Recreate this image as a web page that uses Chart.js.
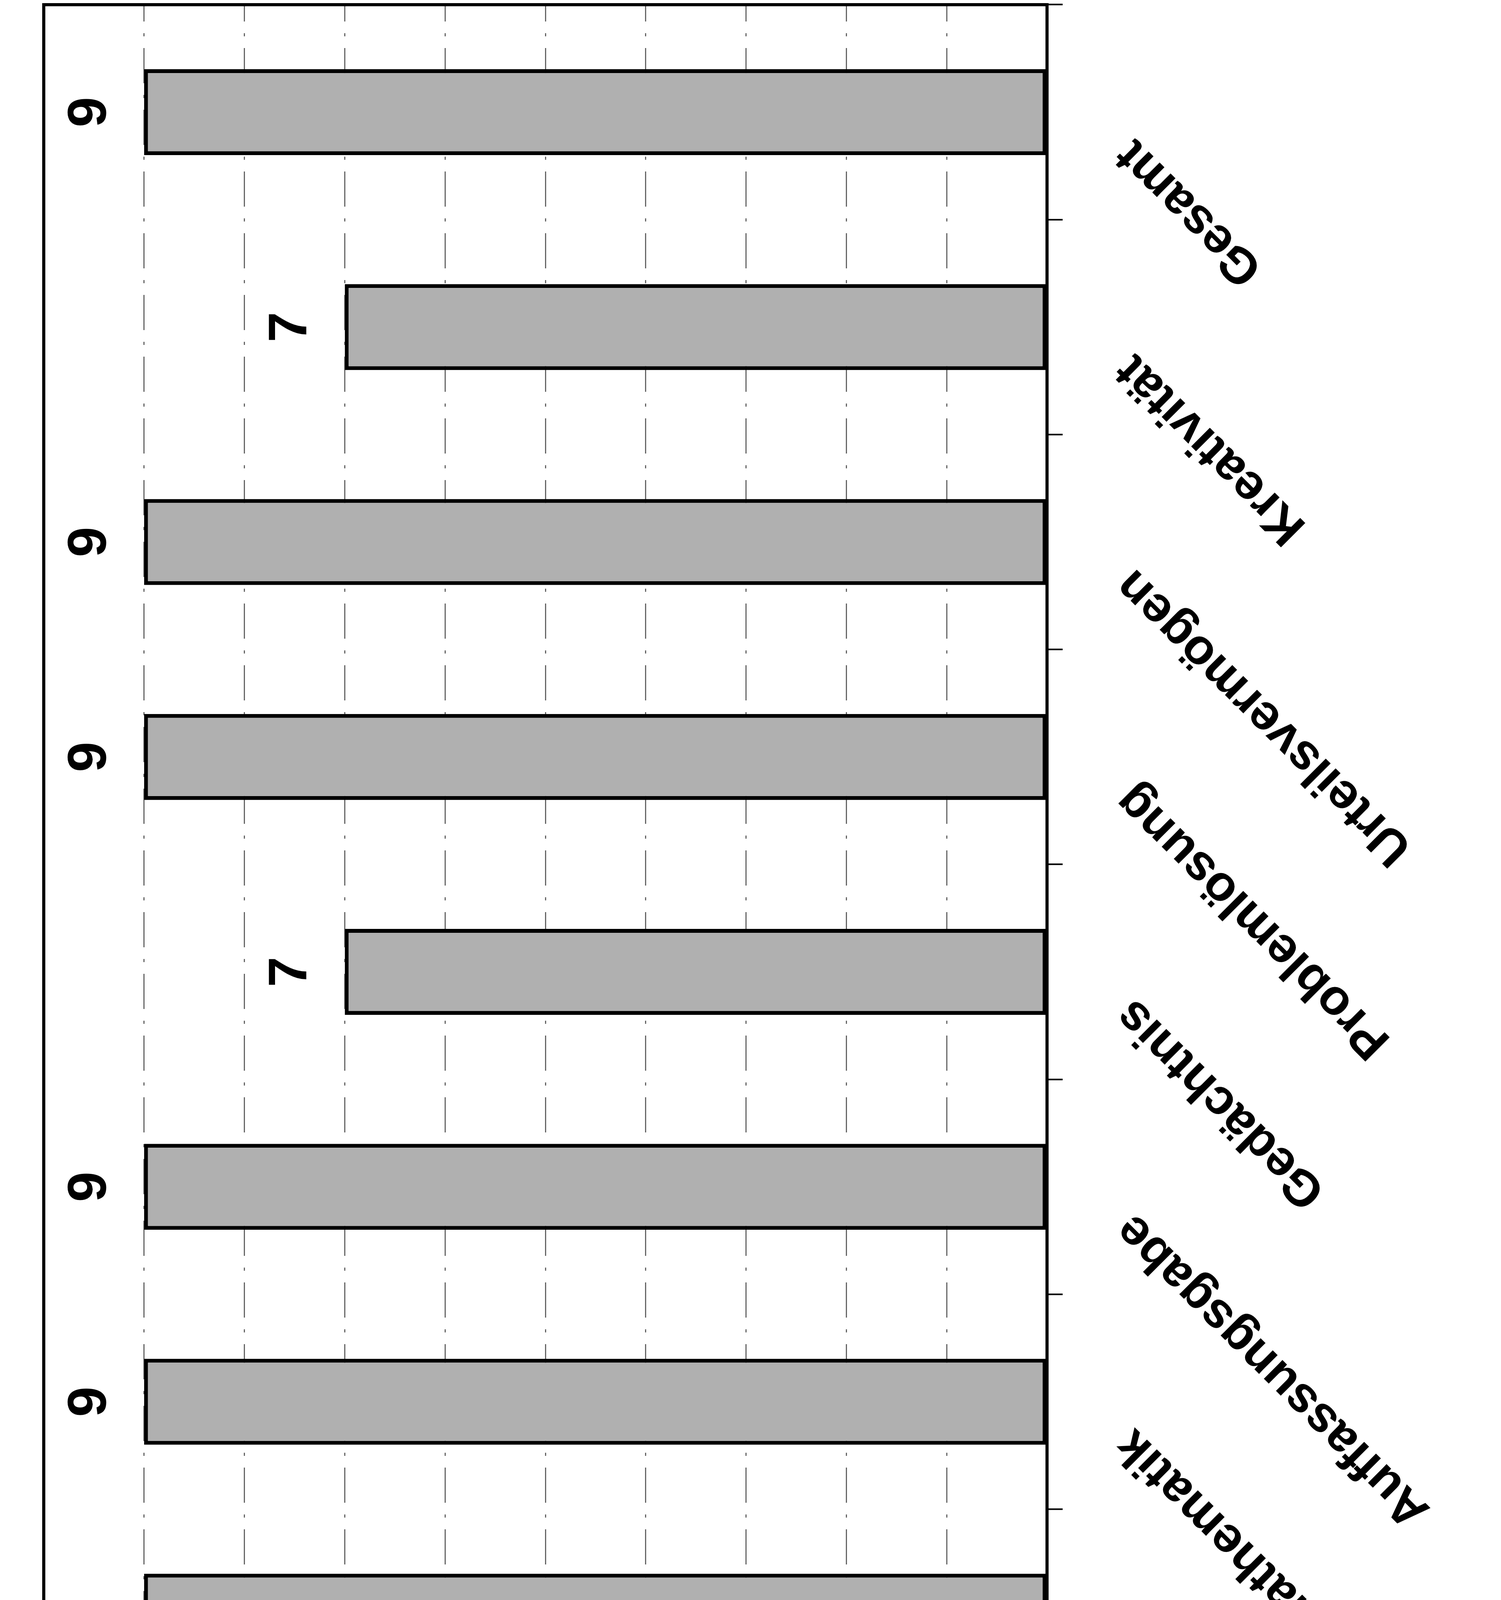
<!DOCTYPE html>
<html>
<head>
<meta charset="utf-8">
<title>Begabungsprofil</title>
<script src="https://cdn.jsdelivr.net/npm/chart.js@4.4.1/dist/chart.umd.min.js"></script>
<style>
  html, body { margin: 0; padding: 0; background: #fff; overflow: hidden; }
  /* the scanned page lies on its side, so the chart is drawn upright and turned */
  #wrap {
    position: absolute; left: 0; top: 0;
    width: 7842px; height: 3842px;
    transform-origin: 0 0;
    transform: translateY(7842px) rotate(-90deg);
  }
</style>
</head>
<body>
<div id="wrap"><canvas id="chart" width="7842" height="3842"></canvas></div>
<script>
const categories = [
  "Bildhafter Denker",
  "Symbolischer Denker",
  "Semantischer Denker",
  "Lese-Bereitschaft",
  "Lese-Verständnis",
  "Arithmetik",
  "Mathematik",
  "Auffassungsgabe",
  "Gedächtnis",
  "Problemlösung",
  "Urteilsvermögen",
  "Kreativität",
  "Gesamt",
];
const scores = [9, 9, 7, 8, 8, 9, 9, 9, 7, 9, 9, 7, 9];
const valueMin = 0;
const valueMax = 10;

const FONT = '"Liberation Sans", Arial, sans-serif';

// numbers above the bars
const valueLabels = {
  id: "valueLabels",
  afterDatasetsDraw(chart) {
    const ctx = chart.ctx;
    const meta = chart.getDatasetMeta(0);
    ctx.save();
    ctx.font = "bold 140px " + FONT;
    ctx.fillStyle = "#000";
    ctx.textAlign = "center";
    ctx.textBaseline = "alphabetic";
    meta.data.forEach((bar, i) => {
      ctx.fillText(String(scores[i]), bar.x, bar.y - 98);
    });
    ctx.restore();
  },
};

// box round the plot area
const plotFrame = {
  id: "plotFrame",
  afterDraw(chart) {
    const { left, top, right, bottom } = chart.chartArea;
    const ctx = chart.ctx;
    ctx.save();
    ctx.strokeStyle = "#000";
    ctx.lineWidth = 8;
    ctx.strokeRect(left, top, right - left, bottom - top);
    ctx.restore();
  },
};

new Chart(document.getElementById("chart"), {
  type: "bar",
  data: {
    labels: categories,
    datasets: [
      {
        data: scores,
        backgroundColor: "#b0b0b0",
        borderColor: "#000",
        borderWidth: 10,
        borderSkipped: false,
        barPercentage: 0.4,
        categoryPercentage: 1,
      },
    ],
  },
  options: {
    responsive: false,
    animation: false,
    devicePixelRatio: 1,
    layout: { padding: { top: 112, right: 12, left: 0, bottom: 0 } },
    plugins: {
      legend: { display: false },
      tooltip: { enabled: false },
    },
    scales: {
      x: {
        offset: true,
        grid: {
          offset: true,
          drawOnChartArea: false,
          drawTicks: true,
          tickLength: 40,
          tickColor: "#000",
          tickWidth: 4,
        },
        border: { display: false },
        ticks: {
          autoSkip: false,
          minRotation: 45,
          maxRotation: 45,
          padding: 105,
          labelOffset: -90,
          color: "#000",
          font: { family: FONT, size: 128, weight: "bold" },
        },
        afterFit: (scale) => {
          scale.height = 1162;
          scale.paddingLeft = 0;
          scale.paddingRight = 0;
        },
      },
      y: {
        min: valueMin,
        max: valueMax,
        ticks: {
          stepSize: 1,
          padding: 70,
          color: "#000",
          font: { family: FONT, size: 140, weight: "bold" },
        },
        grid: {
          color: "#666",
          lineWidth: 3,
          tickLength: 40,
          tickColor: "#000",
          tickWidth: 4,
          tickBorderDash: [],
        },
        border: { display: false, dash: [90, 30, 8, 30] },
        afterFit: (scale) => {
          scale.width = 677;
          scale.paddingTop = 0;
          scale.paddingBottom = 0;
        },
      },
    },
  },
  plugins: [valueLabels, plotFrame],
});
</script>
</body>
</html>
